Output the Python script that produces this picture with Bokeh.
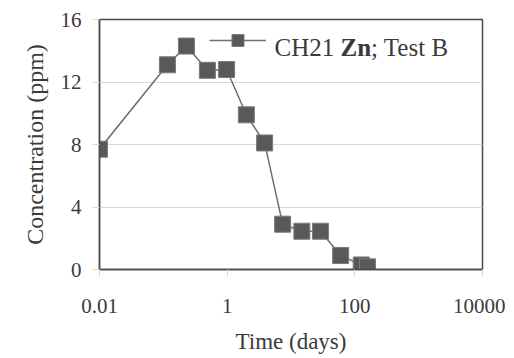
from bokeh.plotting import figure
from bokeh.models import (FixedTicker, BasicTickFormatter, Legend, LegendItem, Label)
from bokeh.core.properties import value
from bokeh.embed import file_html
from bokeh.resources import INLINE

# Data
time_days = [0.01, 0.116, 0.23, 0.49, 0.98, 2.0, 3.86, 7.4, 14.8, 29, 60, 126, 158]
zn_ppm = [7.7, 13.1, 14.3, 12.75, 12.8, 9.9, 8.1, 2.9, 2.45, 2.45, 0.9, 0.29, 0.17]
x_ticks = [0.01, 1, 100, 10000]
y_ticks = [0, 4, 8, 12, 16]
series_name = ["CH21 ", "Zn", "; Test B"]

FONT = "Liberation Serif"
TXT = "#3a3a3a"

p = figure(width=505, height=356, x_axis_type="log",
           x_range=(0.01, 10000), y_range=(0, 16),
           min_border_left=99, min_border_top=19, min_border_right=23, min_border_bottom=86,
           output_backend="svg", toolbar_location=None)

p.background_fill_color = "white"
p.border_fill_color = "white"
p.outline_line_color = "#4a4a4a"
p.outline_line_width = 1.5

# Axes
p.xaxis.ticker = FixedTicker(ticks=x_ticks)
p.xaxis.formatter = BasicTickFormatter()
p.yaxis.ticker = FixedTicker(ticks=y_ticks)
for ax in (p.xaxis, p.yaxis):
    ax.axis_line_color = "#4a4a4a"
    ax.axis_line_width = 1.5
    ax.major_tick_line_color = "#d9d9d9"
    ax.major_tick_line_width = 1
    ax.major_tick_in = 0
    ax.major_tick_out = 7
    ax.minor_tick_line_color = None
    ax.major_label_text_font = FONT
    ax.major_label_text_font_size = "21px"
    ax.major_label_text_color = TXT
    ax.axis_label_text_font = FONT
    ax.axis_label_text_font_size = "23px"
    ax.axis_label_text_font_style = "normal"
    ax.axis_label_text_color = TXT

p.yaxis.axis_label_text_font_size = "24px"
p.xaxis.axis_label = "Time (days)"
p.yaxis.axis_label = "Concentration (ppm)"
p.xaxis.major_label_standoff = 22
p.yaxis.major_label_standoff = 11
p.xaxis.axis_label_standoff = 13
p.yaxis.axis_label_standoff = 10

p.xgrid.grid_line_color = None
p.ygrid.ticker = FixedTicker(ticks=y_ticks)
p.ygrid.grid_line_color = "#d9d9d9"
p.ygrid.grid_line_width = 1

# Series
line_r = p.line(time_days, zn_ppm, line_color="#6e6e6e", line_width=1.5)
sq_r = p.scatter(time_days, zn_ppm, marker="square", size=16,
                 fill_color="#595959", line_color="#7a7a7a", line_width=1)

# Legend glyph (text drawn separately to allow mixed bold)
legend = Legend(items=[LegendItem(label=value(""), renderers=[line_r, sq_r])],
                location=(110, 214), glyph_width=57, glyph_height=30,
                padding=0, margin=0, spacing=0, label_standoff=0, label_width=0,
                label_height=0, label_text_font_size="1px",
                background_fill_alpha=0, border_line_alpha=0)
p.add_layout(legend, "center")

x0 = 175
widths = [66.0, 30.6, 0]
styles = ["normal", "bold", "normal"]
for txt, w, st in zip(series_name, widths, styles):
    p.add_layout(Label(x=x0, y=222, x_units="screen", y_units="screen", text=txt,
                       text_font=FONT, text_font_size="25px", text_font_style=st,
                       text_color=TXT, text_baseline="alphabetic", text_align="left"))
    x0 += w

open("out.html", "w").write(file_html(p, INLINE))
